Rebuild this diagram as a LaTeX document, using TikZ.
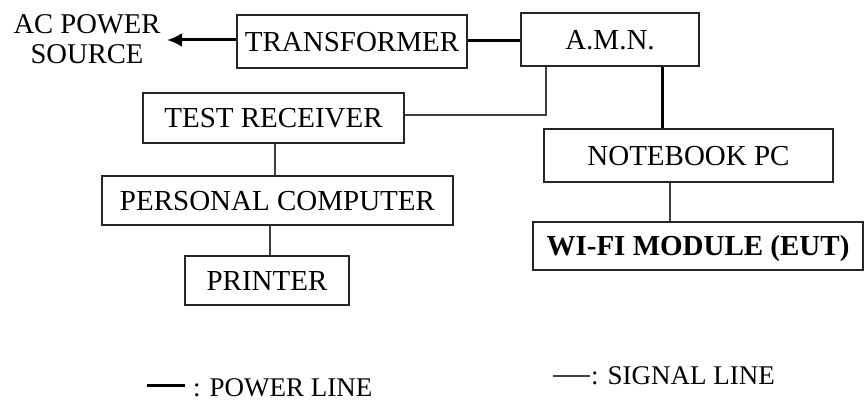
\documentclass[tikz,border=0pt]{standalone}
\usepackage{fontspec}
\setmainfont{Liberation Serif}
\usetikzlibrary{arrows.meta}
\tikzset{
  blk/.style={draw=black!85, line width=1.1pt, inner sep=0pt, anchor=center,
    font=\fontsize{29}{33}\selectfont, text height=19.5pt, text depth=0pt},
  pwr/.style={line width=3pt, black},
  sig/.style={line width=1.1pt, black!75},
  lab/.style={inner sep=0pt, anchor=west, font=\fontsize{27}{30}\selectfont, text height=18pt, text depth=0pt},
}
\begin{document}
\begin{tikzpicture}[x=1pt,y=-1pt]
\useasboundingbox (0,0) rectangle (868,401);
% boxes
\node[blk, minimum width=230pt, minimum height=53pt] (tf) at (352,41.5) {TRANSFORMER};
\node[blk, minimum width=178pt, minimum height=53pt] (amn) at (610,39.5) {A.M.N.};
\node[blk, minimum width=261pt, minimum height=50pt] (tr) at (273.5,118) {TEST RECEIVER};
\node[blk, minimum width=289pt, minimum height=53pt] (nb) at (688.5,155.5) {NOTEBOOK PC};
\node[blk, minimum width=330pt, minimum height=48pt] (wifi) at (698,246) {\bfseries WI-FI MODULE (EUT)};
\node[blk, minimum width=351pt, minimum height=49pt] (pc) at (277.5,200.5) {PERSONAL COMPUTER};
\node[blk, minimum width=164pt, minimum height=49pt] (pr) at (267,280.5) {PRINTER};
\node[inner sep=0pt, align=center, font=\fontsize{28.6}{30}\selectfont] (ac) at (87,39) {AC POWER\\SOURCE};
% helper coordinates
\coordinate (arr) at (167,40);
\coordinate (c1) at (546,115);
\coordinate (p1) at (662,0);
\coordinate (s1) at (670,0);
\coordinate (s2) at (275,0);
\coordinate (s3) at (270,0);
% connectors
\draw[pwr, -{Latex[length=15pt,width=14pt]}] (tf.west |- arr) -- (arr);
\draw[pwr] (tf.east |- 0,41) -- (amn.west |- 0,41);
\draw[sig] (amn.south -| c1) -- (c1) -- (c1 -| tr.east);
\draw[pwr] (amn.south -| p1) -- (nb.north -| p1);
\draw[sig] (nb.south -| s1) -- (wifi.north -| s1);
\draw[sig] (tr.south -| s2) -- (pc.north -| s2);
\draw[sig] (pc.south -| s3) -- (pr.north -| s3);
% legend
\coordinate (lp1) at (147,385);
\coordinate (lp2) at (185,385);
\draw[pwr] (lp1) -- (lp2);
\node[lab] (lpt) at (193,387) {: POWER LINE};
\coordinate (ls1) at (553,376);
\coordinate (ls2) at (590,376);
\draw[sig] (ls1) -- (ls2);
\node[lab] (lst) at (591,375) {: SIGNAL LINE};
\end{tikzpicture}
\end{document}
